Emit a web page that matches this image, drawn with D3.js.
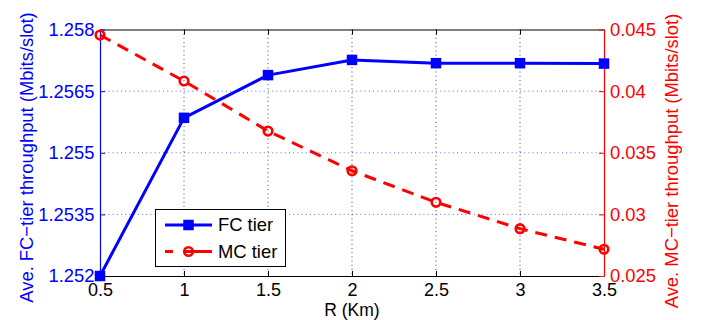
<!DOCTYPE html>
<html><head><meta charset="utf-8">
<script src="https://cdn.jsdelivr.net/npm/d3@7"></script>
<style>
body{margin:0;background:#fff}
svg text{font-family:"Liberation Sans",Arial,Helvetica,sans-serif}
</style>
</head><body>
<svg id="chart" width="702" height="320"></svg>
<script>
// ---- data ----
const radius = [0.5, 1, 1.5, 2, 2.5, 3, 3.5];
const fcThroughput = [1.2520, 1.25585, 1.25689, 1.25726, 1.25718, 1.25718, 1.25717];
const mcThroughput = [0.04455, 0.04082, 0.03676, 0.03354, 0.03098, 0.02884, 0.02717];
const xTicks = [0.5, 1, 1.5, 2, 2.5, 3, 3.5];
const xTickLabels = ["0.5", "1", "1.5", "2", "2.5", "3", "3.5"];
const leftTicks = [1.252, 1.2535, 1.255, 1.2565, 1.258];
const leftTickLabels = ["1.252", "1.2535", "1.255", "1.2565", "1.258"];
const rightTicks = [0.025, 0.03, 0.035, 0.04, 0.045];
const rightTickLabels = ["0.025", "0.03", "0.035", "0.04", "0.045"];
const seriesNames = ["FC tier", "MC tier"];
const xLabel = "R (Km)";
const leftLabel = "Ave. FC\u2212tier throughput (Mbits/slot)";
const rightLabel = "Ave. MC\u2212tier throughput (Mbits/slot)";

// ---- layout ----
const L = 100, R = 604, T = 29.5, B = 276;
const BLUE = "#0000ff", RED = "#ff0000";
const FS = "18.4px";

const svg = d3.select("#chart");
const x = d3.scaleLinear().domain([0.5, 3.5]).range([L, R]);
const yL = d3.scaleLinear().domain([1.252, 1.258]).range([B, T]);
const yR = d3.scaleLinear().domain([0.025, 0.045]).range([B, T]);

// grid
svg.append("g").selectAll("line").data(xTicks.slice(1, -1)).join("line")
  .attr("x1", d => x(d)).attr("x2", d => x(d)).attr("y1", T).attr("y2", B)
  .attr("stroke", "#000").attr("stroke-width", 1).attr("stroke-dasharray", "1,3.2").attr("opacity", 0.7);
svg.append("g").selectAll("line").data(leftTicks.slice(1, -1)).join("line")
  .attr("x1", L).attr("x2", R).attr("y1", d => yL(d)).attr("y2", d => yL(d))
  .attr("stroke", "#3333ff").attr("stroke-width", 1).attr("stroke-dasharray", "1,3.2").attr("opacity", 0.75);

// axes
const xAxisB = d3.axisBottom(x).tickValues(xTicks).tickFormat((d, i) => xTickLabels[i])
  .tickSizeInner(-5).tickSizeOuter(0).tickPadding(6.8);
const gxb = svg.append("g").attr("transform", `translate(0,${B})`).call(xAxisB);
gxb.select(".domain").attr("stroke", "#000").attr("stroke-width", 1.2);
gxb.selectAll(".tick line").attr("stroke", "#000");
gxb.selectAll("text").attr("fill", "#000").style("font-size", "18px");

const xAxisT = d3.axisTop(x).tickValues(xTicks).tickFormat("").tickSizeInner(-5).tickSizeOuter(0);
const gxt = svg.append("g").attr("transform", `translate(0,${T})`).call(xAxisT);
gxt.select(".domain").attr("stroke", "#000").attr("stroke-width", 1.2);
gxt.selectAll(".tick line").attr("stroke", "#000");

const yAxisL = d3.axisLeft(yL).tickValues(leftTicks).tickFormat((d, i) => leftTickLabels[i])
  .tickSizeInner(-5).tickSizeOuter(0).tickPadding(5.5);
const gyl = svg.append("g").attr("transform", `translate(${L},0)`).call(yAxisL);
gyl.select(".domain").attr("stroke", BLUE).attr("stroke-width", 1.2);
gyl.selectAll(".tick line").attr("stroke", BLUE);
gyl.selectAll("text").attr("fill", BLUE).style("font-size", FS);

const yAxisR = d3.axisRight(yR).tickValues(rightTicks).tickFormat((d, i) => rightTickLabels[i])
  .tickSizeInner(-5).tickSizeOuter(0).tickPadding(6);
const gyr = svg.append("g").attr("transform", `translate(${R},0)`).call(yAxisR);
gyr.select(".domain").attr("stroke", RED).attr("stroke-width", 1.2);
gyr.selectAll(".tick line").attr("stroke", RED);
gyr.selectAll("text").attr("fill", RED).style("font-size", FS);

// axis labels
svg.append("text").attr("x", (L + R) / 2).attr("y", 316).attr("text-anchor", "middle")
  .style("font-size", "17.5px").attr("fill", "#000").text(xLabel);
svg.append("text").attr("transform", "translate(33,157.5) rotate(-90)").attr("text-anchor", "middle")
  .style("font-size", FS).attr("fill", BLUE).text(leftLabel);
svg.append("text").attr("transform", "translate(678,161) rotate(-90)").attr("text-anchor", "middle")
  .style("font-size", FS).attr("fill", RED).text(rightLabel);

// series
const fcData = radius.map((r, i) => [r, fcThroughput[i]]);
const mcData = radius.map((r, i) => [r, mcThroughput[i]]);
const SQ = 10.5, CR = 4.3;

svg.append("path").datum(fcData)
  .attr("d", d3.line().x(d => x(d[0])).y(d => yL(d[1])))
  .attr("fill", "none").attr("stroke", BLUE).attr("stroke-width", 3).attr("stroke-linejoin", "round");
svg.append("g").selectAll("rect").data(fcData).join("rect")
  .attr("x", d => x(d[0]) - SQ / 2).attr("y", d => yL(d[1]) - SQ / 2)
  .attr("width", SQ).attr("height", SQ).attr("fill", BLUE);

svg.append("path").datum(mcData)
  .attr("d", d3.line().x(d => x(d[0])).y(d => yR(d[1])))
  .attr("fill", "none").attr("stroke", RED).attr("stroke-width", 3).attr("stroke-dasharray", "12,8");
svg.append("g").selectAll("circle").data(mcData).join("circle")
  .attr("cx", d => x(d[0])).attr("cy", d => yR(d[1])).attr("r", CR)
  .attr("fill", "none").attr("stroke", RED).attr("stroke-width", 2.6);

// legend
const lg = svg.append("g");
lg.append("rect").attr("x", 155.5).attr("y", 209.5).attr("width", 130).attr("height", 57)
  .attr("fill", "#fff").attr("stroke", "#000").attr("stroke-width", 1);
const rows = seriesNames.map((n, i) => ({name: n, i}));
const rowY = [225, 251.5];
rows.forEach(r => {
  const y = rowY[r.i];
  if (r.i === 0) {
    lg.append("line").attr("x1", 165).attr("x2", 212).attr("y1", y).attr("y2", y)
      .attr("stroke", BLUE).attr("stroke-width", 3);
    lg.append("rect").attr("x", 188.5 - SQ / 2).attr("y", y - SQ / 2).attr("width", SQ).attr("height", SQ).attr("fill", BLUE);
  } else {
    lg.append("line").attr("x1", 165).attr("x2", 212).attr("y1", y).attr("y2", y)
      .attr("stroke", RED).attr("stroke-width", 3).attr("stroke-dasharray", "8,15.5,50");
    lg.append("line").attr("x1", 185).attr("x2", 192).attr("y1", y).attr("y2", y)
      .attr("stroke", RED).attr("stroke-width", 3);
    lg.append("circle").attr("cx", 188.5).attr("cy", y).attr("r", CR)
      .attr("fill", "none").attr("stroke", RED).attr("stroke-width", 2.6);
  }
  lg.append("text").attr("x", 218).attr("y", y).attr("dy", "0.35em")
    .style("font-size", FS).attr("fill", "#000").text(r.name);
});
</script>
</body></html>
